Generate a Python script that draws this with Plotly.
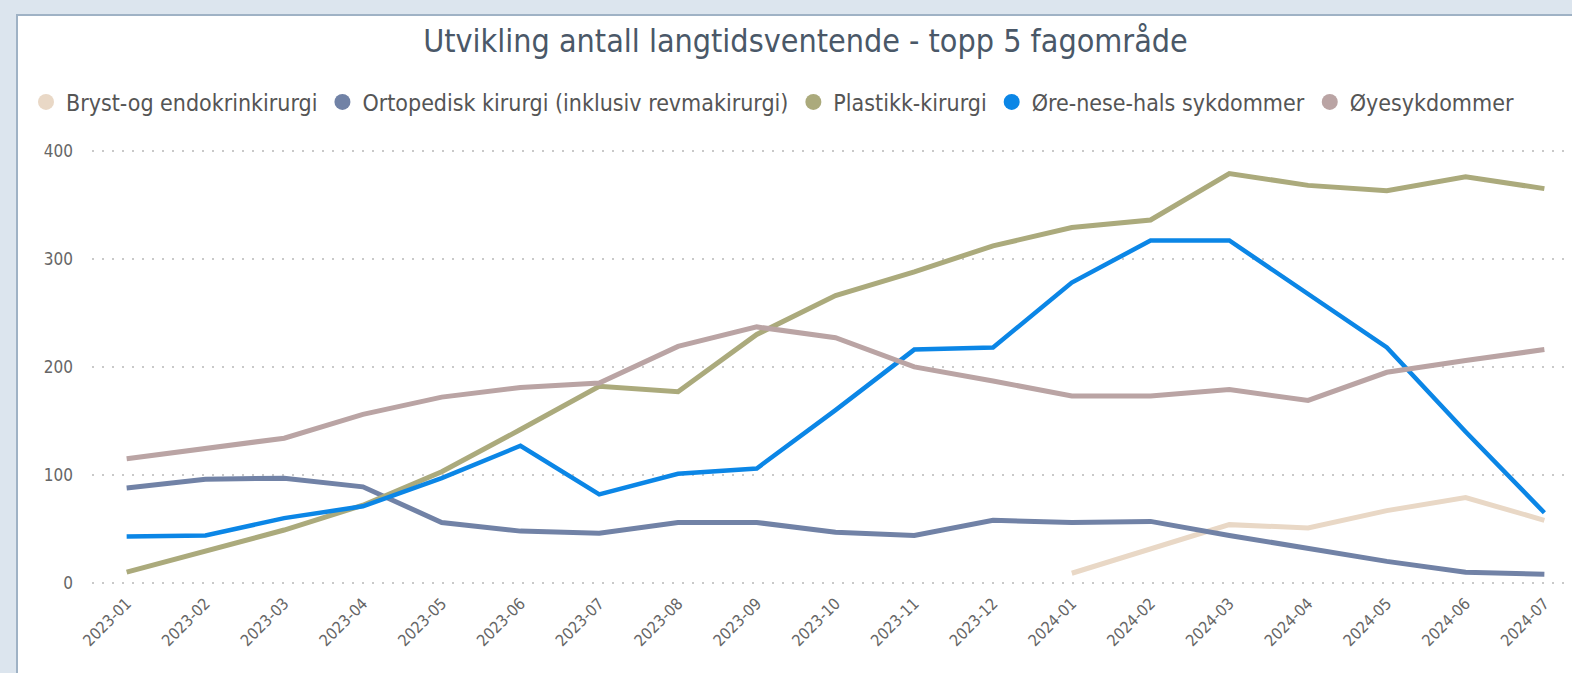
import plotly.graph_objects as go

months = ["2023-01", "2023-02", "2023-03", "2023-04", "2023-05", "2023-06", "2023-07",
          "2023-08", "2023-09", "2023-10", "2023-11", "2023-12", "2024-01", "2024-02",
          "2024-03", "2024-04", "2024-05", "2024-06", "2024-07"]

bryst = [None] * 12 + [9, 31, 54, 51, 67, 79, 58]
ortopedisk = [88, 96, 97, 89, 56, 48, 46, 56, 56, 47, 44, 58, 56, 57, 44, 32, 20, 10, 8]
plastikk = [10, 30, 49, 72, 103, 142, 182, 177, 230, 266, 288, 312, 329, 336, 379, 368, 363, 376, 365]
ore_nese_hals = [43, 44, 60, 71, 97, 127, 82, 101, 106, 160, 216, 218, 278, 317, 317, 268, 218, 140, 65]
oye = [115, 124, 134, 156, 172, 181, 185, 219, 237, 227, 200, 187, 173, 173, 179, 169, 195, 206, 216]

series = [
    ("Bryst-og endokrinkirurgi", bryst, "#E9D8C6", 5),
    ("Ortopedisk kirurgi (inklusiv revmakirurgi)", ortopedisk, "#7182A6", 5),
    ("Plastikk-kirurgi", plastikk, "#ABAA7C", 5),
    ("Øre-nese-hals sykdommer", ore_nese_hals, "#0B86E6", 4.5),
    ("Øyesykdommer", oye, "#BAA4A4", 5),
]

W, H = 1572, 673
L, R, T, B = 92, 4, 140, 83
FONT = "DejaVu Sans Condensed, Liberation Sans Narrow, Arial Narrow, sans-serif"

fig = go.Figure()
for name, vals, color, wdt in series:
    fig.add_trace(go.Scatter(x=months, y=vals, mode="lines", name=name,
                             line=dict(color=color, width=wdt), showlegend=False,
                             connectgaps=False))
for name, vals, color, wdt in series:
    fig.add_trace(go.Scatter(x=[None], y=[None], mode="markers", name=name,
                             marker=dict(color=color, size=18, symbol="circle"),
                             showlegend=True))

pw = W - L - R
ph = H - T - B

def px(xp):
    return (xp - L) / pw

def py(yp):
    return (H - B - yp) / ph

shapes = [
    dict(type="rect", xref="paper", yref="paper", x0=px(17), x1=px(1580), y0=py(15), y1=py(700),
         fillcolor="white", line=dict(color="#9FB2C5", width=2), layer="below"),
]

fig.update_layout(
    width=W, height=H,
    margin=dict(l=L, r=R, t=T, b=B),
    paper_bgcolor="#DCE5EE",
    plot_bgcolor="white",
    shapes=shapes,
    font=dict(family=FONT, color="#666666"),
    title=dict(text="Utvikling antall langtidsventende - topp 5 fagområde",
               x=(423 + 1188) / 2 / W, xref="container", xanchor="center", y=1 - 41 / H, yanchor="middle",
               font=dict(size=32, color="#4A5868", family=FONT)),
    legend=dict(orientation="h", x=px(26), xref="paper", y=py(102), yanchor="middle", xanchor="left",
                font=dict(size=23, color="#555555", family=FONT), itemwidth=30, tracegroupgap=0,
                bgcolor="rgba(0,0,0,0)"),
    xaxis=dict(type="category", range=[-0.44, 18.3], showgrid=False, zeroline=False,
               showline=False, tickangle=-45, ticks="", automargin=False,
               tickfont=dict(size=16, color="#666666", family=FONT)),
    yaxis=dict(range=[-6.5, 410], tickvals=[0, 100, 200, 300, 400], showgrid=True,
               gridcolor="#C9C9C9", griddash="2px,8px", gridwidth=1.5, zeroline=False, showline=False,
               tickfont=dict(size=17, color="#666666", family=FONT), ticks="", automargin=False,
               ticklabelstandoff=18),
)

fig.write_html("out.html", config={"displayModeBar": False},
               post_script="document.body.style.margin='0';document.body.style.overflow='hidden';")
